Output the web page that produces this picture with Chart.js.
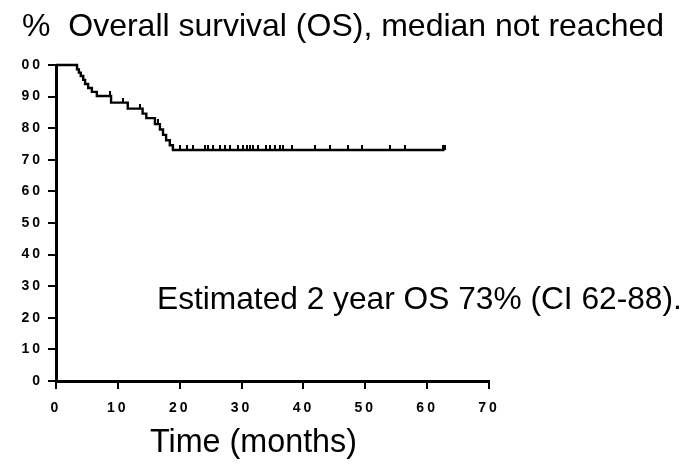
<!DOCTYPE html>
<html>
<head>
<meta charset="utf-8">
<script src="https://cdn.jsdelivr.net/npm/chart.js@4/dist/chart.umd.min.js"></script>
<style>
  html, body { margin: 0; padding: 0; background: #ffffff; }
  canvas { display: block; }
</style>
</head>
<body>
<canvas id="km" width="692" height="469"></canvas>
<script>
// Kaplan-Meier overall survival: event times (months) and survival (%) after each step
const eventTimes = [0, 3.4, 3.7, 4.0, 4.4, 4.7, 5.2, 5.8, 6.6, 8.9, 11.6, 14.0, 14.6, 16.0, 16.8, 17.3, 17.8, 18.4, 18.9, 62.8];
const survival   = [100, 98.6, 97.6, 96.5, 95.3, 94.0, 92.7, 91.5, 90.2, 88.1, 86.2, 84.6, 83.2, 81.3, 79.6, 77.9, 76.2, 74.6, 73.1, 73.1];

// Censored observations (months)
const censorTimes = [8.7, 10.8, 13.6, 16.5,
  20.0, 21.1, 22.2, 24.1, 24.6, 25.4, 26.5, 27.3, 28.1, 29.5, 30.3, 30.8, 31.3, 31.9,
  32.7, 34.0, 34.6, 35.4, 36.2, 36.7, 38.1, 41.8, 44.3, 47.2, 49.4, 54.0, 56.4, 62.8];

// Axis ticks
const xTicks = [0, 10, 20, 30, 40, 50, 60, 70];
const yTicks = [0, 10, 20, 30, 40, 50, 60, 70, 80, 90, 100];
const yTickText = ['0', '10', '20', '30', '40', '50', '60', '70', '80', '90', '00'];

const titleText = '%  Overall survival (OS), median not reached';
const xAxisText = 'Time (months)';
const noteText = 'Estimated 2 year OS 73% (CI 62-88).';

// survival level of the step function at time t
function survivalAt(t) {
  let s = survival[0];
  for (let i = 0; i < eventTimes.length; i++) {
    if (eventTimes[i] <= t) s = survival[i];
  }
  return s;
}

const curve = eventTimes.map((t, i) => ({ x: t, y: survival[i] }));
const censors = censorTimes.map(t => ({ x: t, y: survivalAt(t) }));

// small upward tick used as censor marker
function makeTick(w, h) {
  const c = document.createElement('canvas');
  c.width = w; c.height = h * 2;
  const g = c.getContext('2d');
  g.fillStyle = '#000';
  g.fillRect(0, 0, w, h);
  return c;
}
const tickMark = makeTick(2, 5);
const endMark = makeTick(4, 5);
const censorStyles = censorTimes.map((t, i) => i === censorTimes.length - 1 ? endMark : tickMark);

const FONT = '"Liberation Sans", Arial, Helvetica, sans-serif';

// spaced bold digits for tick labels; plain text for headings
const textPlugin = {
  id: 'textPlugin',
  beforeDraw(chart) {
    chart.ctx.letterSpacing = '3px';
  },
  afterDraw(chart) {
    const ctx = chart.ctx;
    ctx.save();
    ctx.letterSpacing = '0px';
    ctx.fillStyle = '#000';
    ctx.textBaseline = 'alphabetic';
    ctx.textAlign = 'left';
    ctx.font = '32px ' + FONT;
    ctx.fillText(titleText, 22, 36);
    ctx.font = '31.7px ' + FONT;
    ctx.fillText(noteText, 157, 309);
    ctx.font = '32.3px ' + FONT;
    ctx.fillText(xAxisText, 150, 452);
    ctx.restore();
  }
};

new Chart(document.getElementById('km'), {
  type: 'scatter',
  data: {
    datasets: [
      {
        data: curve,
        showLine: true,
        stepped: 'before',
        borderColor: '#000',
        borderWidth: 2.4,
        pointRadius: 0,
        clip: false
      },
      {
        data: censors,
        showLine: false,
        pointStyle: censorStyles,
        clip: false
      }
    ]
  },
  options: {
    responsive: false,
    devicePixelRatio: 1,
    animation: false,
    events: [],
    layout: { padding: { top: 65, right: 203, bottom: 0, left: 0 } },
    plugins: {
      legend: { display: false },
      tooltip: { enabled: false },
      title: { display: false }
    },
    scales: {
      x: {
        type: 'linear',
        min: 0, max: 70,
        afterFit(s) { s.height = 88; },
        afterBuildTicks(s) { s.ticks = xTicks.map(v => ({ value: v })); },
        border: { display: true, color: '#000', width: 3 },
        grid: { drawOnChartArea: false, drawTicks: true, tickLength: 8, color: '#000', lineWidth: 2 },
        ticks: {
          color: '#000',
          padding: 11,
          maxRotation: 0,
          font: { family: FONT, size: 14, weight: 'bold' }
        }
      },
      y: {
        type: 'linear',
        min: 0, max: 100,
        afterFit(s) { s.width = 56; },
        afterBuildTicks(s) { s.ticks = yTicks.map(v => ({ value: v })); },
        border: { display: true, color: '#000', width: 3 },
        grid: { drawOnChartArea: false, drawTicks: true, tickLength: 8, color: '#000', lineWidth: 2 },
        ticks: {
          color: '#000',
          padding: 5,
          font: { family: FONT, size: 14, weight: 'bold' },
          callback(v) {
            const i = yTicks.indexOf(v);
            return i >= 0 ? yTickText[i] : '';
          }
        }
      }
    }
  },
  plugins: [textPlugin]
});
</script>
</body>
</html>
